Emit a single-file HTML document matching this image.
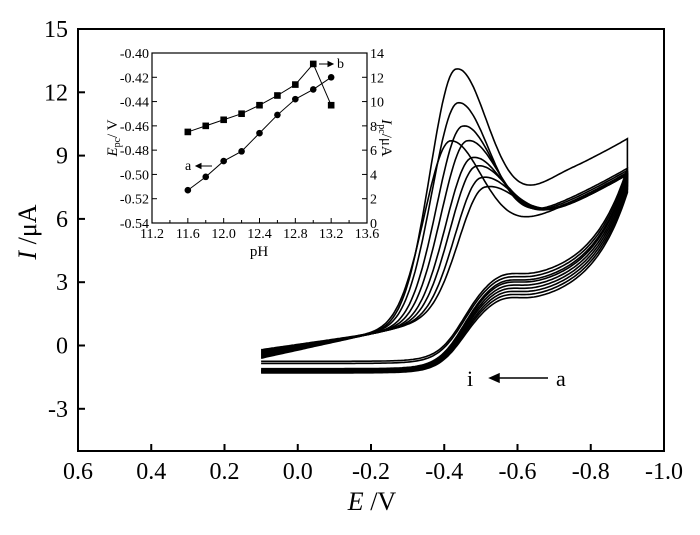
<!DOCTYPE html>
<html><head><meta charset="utf-8"><style>
body{margin:0;background:#fff}
svg text{font-family:"Liberation Serif",serif;fill:#000}
</style></head><body>
<svg id="c" width="700" height="530" viewBox="0 0 700 530" xmlns="http://www.w3.org/2000/svg">
<g id="main"></g>
<g id="inset"></g>
</svg>
<script>
// main chart data
const xTicks=[0.6,0.4,0.2,0.0,-0.2,-0.4,-0.6,-0.8,-1.0];
const xTickLabels=["0.6","0.4","0.2","0.0","-0.2","-0.4","-0.6","-0.8","-1.0"];
const yTicks=[15,12,9,6,3,0,-3];
const peakPotentials=[-0.432,-0.437,-0.45,-0.416,-0.462,-0.475,-0.487,-0.50,-0.51];
const peakCurrents=[13.1,11.5,10.4,9.7,9.7,8.9,8.5,7.95,7.5];
const tailOffsets=[1.7,0.3,0.2,0.1,0.1,0.05,0,0,0];
const startCurrents=[-0.2,-0.25,-0.3,-0.35,-0.4,-0.45,-0.5,-0.55,-0.6];
const plateauCurrents=[3.0,2.85,2.7,2.6,2.45,2.3,2.15,2.0,1.85];
const lowCurrents=[-0.75,-0.85,-1.1,-1.15,-1.2,-1.2,-1.25,-1.25,-1.3];
// inset data
const pH=[11.6,11.8,12.0,12.2,12.4,12.6,12.8,13.0,13.2];
const Epc=[-0.513,-0.502,-0.489,-0.481,-0.466,-0.451,-0.438,-0.430,-0.420];
const Ipc=[7.5,8.0,8.5,9.0,9.7,10.5,11.4,13.1,9.7];
const insetXTicks=[11.2,11.6,12.0,12.4,12.8,13.2,13.6];
const insetLeftTicks=[-0.40,-0.42,-0.44,-0.46,-0.48,-0.50,-0.52,-0.54];
const insetRightTicks=[0,2,4,6,8,10,12,14];

const NS="http://www.w3.org/2000/svg";
function mk(tag,attrs,parent){const e=document.createElementNS(NS,tag);for(const k in attrs)e.setAttribute(k,attrs[k]);parent.appendChild(e);return e;}
const L=78,R=664,T=29,B=451;
const X=e=>L+(0.6-e)/1.6*(R-L);
const Y=i=>B-(i+5)/20*(B-T);
const main=document.getElementById('main');
let fr=mk('rect',{x:L,y:T,width:R-L,height:B-T,fill:'none',stroke:'#000','stroke-width':2},main);


xTicks.forEach((v,i)=>{
  const t=mk('line',{x1:X(v),x2:X(v),y1:B,y2:B-7,stroke:'#000','stroke-width':2},main);
  
  
  const tx=mk('text',{x:X(v),y:B+28,'font-size':24,'text-anchor':'middle'},main);
  tx.textContent=xTickLabels[i];
  
  
});
yTicks.forEach(v=>{
  const t=mk('line',{x1:L,x2:L+7,y1:Y(v),y2:Y(v),stroke:'#000','stroke-width':2},main);
  
  
  const tx=mk('text',{x:L-10,y:Y(v)+8,'font-size':24,'text-anchor':'end'},main);
  tx.textContent=String(v);
  
  
});
let xt=mk('text',{x:372,y:510,'font-size':26,'text-anchor':'middle'},main);
xt.innerHTML='<tspan font-style="italic">E</tspan> /V';


let yt=mk('text',{x:0,y:0,'font-size':26,'text-anchor':'middle',transform:'translate(36,232) rotate(-90)'},main);
yt.innerHTML='<tspan font-style="italic">I</tspan> /μA';



// CV curves
for(let k=0;k<peakPotentials.length;k++){
  const Ep=peakPotentials[k],Ip=peakCurrents[k],to=tailOffsets[k];
  const pre=e=>startCurrents[k]+(0.55-startCurrents[k])*Math.max(0,(0.1-e))/0.3;
  const sm=e=>{const t=Math.min(1,Math.max(0,(-e-0.4)/0.35));return t*t*(3-2*t);};
  const tail=e=>4.8+3.3*Math.pow(Math.max(0,(-e-0.4))/0.5,1.5)+to*sm(e);
  const pts=[];
  for(let e=0.1;e>=-0.9001;e-=0.005){
    let I;
    if(e>Ep){I=pre(e)+(Ip-pre(Ep))*Math.exp(-Math.pow((e-Ep)/0.1,2));}
    else{I=tail(e)+(Ip-tail(Ep))*Math.exp(-Math.pow((Ep-e)/0.12,2));}
    pts.push([X(e),Y(I)]);
  }
  const P=plateauCurrents[k],lo=lowCurrents[k];
  for(let e=-0.9;e<=0.1001;e+=0.005){
    let I=lo+(P-lo)/(1+Math.exp((e+0.45)/0.035))+5.4*Math.exp((-e-0.9)/0.1)+0.3*Math.exp(-Math.pow((e+0.56)/0.06,2));
    pts.push([X(e),Y(I)]);
  }
  const p=mk('path',{d:'M'+pts.map(q=>q[0].toFixed(1)+','+q[1].toFixed(1)).join('L'),fill:'none',stroke:'#000','stroke-width':1.6},main);
  
  
}
let ai=mk('text',{x:467,y:386,'font-size':22},main);ai.textContent='i';


let ar=mk('path',{d:'M548,378L490,378M490,378l9,-4v8z',stroke:'#000','stroke-width':1.5,fill:'#000'},main);


let aa=mk('text',{x:556,y:386,'font-size':22},main);aa.textContent='a';



// inset
const ins=document.getElementById('inset');
const iL=152,iR=367,iT=53,iB=223;
const iX=p=>iL+(p-11.2)/2.4*(iR-iL);
const iYL=e=>iB-(e+0.54)/0.14*(iB-iT);
const iYR=v=>iB-v/14*(iB-iT);
let ifr=mk('rect',{x:iL,y:iT,width:iR-iL,height:iB-iT,fill:'#fff',stroke:'#000','stroke-width':1.2},ins);


for(let p=11.2;p<=13.601;p+=0.2){
  const big=Math.abs(((p-11.2)/0.4)-Math.round((p-11.2)/0.4))<0.01;
  const t=mk('line',{x1:iX(p),x2:iX(p),y1:iB,y2:iB-(big?5:3),stroke:'#000'},ins);
  
  
}
insetXTicks.forEach(v=>{
  const tx=mk('text',{x:iX(v),y:iB+15,'font-size':14,'text-anchor':'middle'},ins);
  tx.textContent=v.toFixed(1);
  
  
});
insetLeftTicks.forEach(v=>{
  const t=mk('line',{x1:iL,x2:iL+5,y1:iYL(v),y2:iYL(v),stroke:'#000'},ins);
  
  
  const tx=mk('text',{x:iL-3,y:iYL(v)+5,'font-size':14,'text-anchor':'end'},ins);
  tx.textContent=v.toFixed(2);
  
  
});
insetRightTicks.forEach(v=>{
  const t=mk('line',{x1:iR,x2:iR-5,y1:iYR(v),y2:iYR(v),stroke:'#000'},ins);
  
  
  const tx=mk('text',{x:iR+3,y:iYR(v)+5,'font-size':14},ins);
  tx.textContent=String(v);
  
  
});
let ixt=mk('text',{x:259,y:256,'font-size':15,'text-anchor':'middle'},ins);ixt.textContent='pH';


let ilt=mk('text',{x:0,y:0,'font-size':15,'text-anchor':'middle',transform:'translate(117,138) rotate(-90)'},ins);
ilt.innerHTML='<tspan font-style="italic">E</tspan><tspan font-size="10" dy="3">pc</tspan><tspan dy="-3">/ V</tspan>';


let irt=mk('text',{x:0,y:0,'font-size':15,'text-anchor':'middle',transform:'translate(382,138) rotate(90)'},ins);
irt.innerHTML='<tspan font-style="italic">I</tspan><tspan font-size="10" dy="3">pc</tspan><tspan dy="-3">/μA</tspan>';


let la=mk('path',{d:'M'+pH.map((p,i)=>iX(p)+','+iYL(Epc[i])).join('L'),fill:'none',stroke:'#000'},ins);


let lb=mk('path',{d:'M'+pH.map((p,i)=>iX(p)+','+iYR(Ipc[i])).join('L'),fill:'none',stroke:'#000'},ins);


pH.forEach((p,i)=>{
  const c=mk('circle',{cx:iX(p),cy:iYL(Epc[i]),r:3.3,fill:'#000'},ins);
  
  
  const s=mk('rect',{x:iX(p)-3.3,y:iYR(Ipc[i])-3.3,width:6.6,height:6.6,fill:'#000'},ins);
  
  
});
let ta=mk('text',{x:185,y:170,'font-size':14},ins);ta.textContent='a';


let taa=mk('path',{d:'M212,166L196,166M196,166l5,-2.5v5z',stroke:'#000',fill:'#000'},ins);


let tb=mk('text',{x:337,y:68,'font-size':14},ins);tb.textContent='b';


let tba=mk('path',{d:'M319,64L333,64M333,64l-5,-2.5v5z',stroke:'#000',fill:'#000'},ins);


</script>
</body></html>
